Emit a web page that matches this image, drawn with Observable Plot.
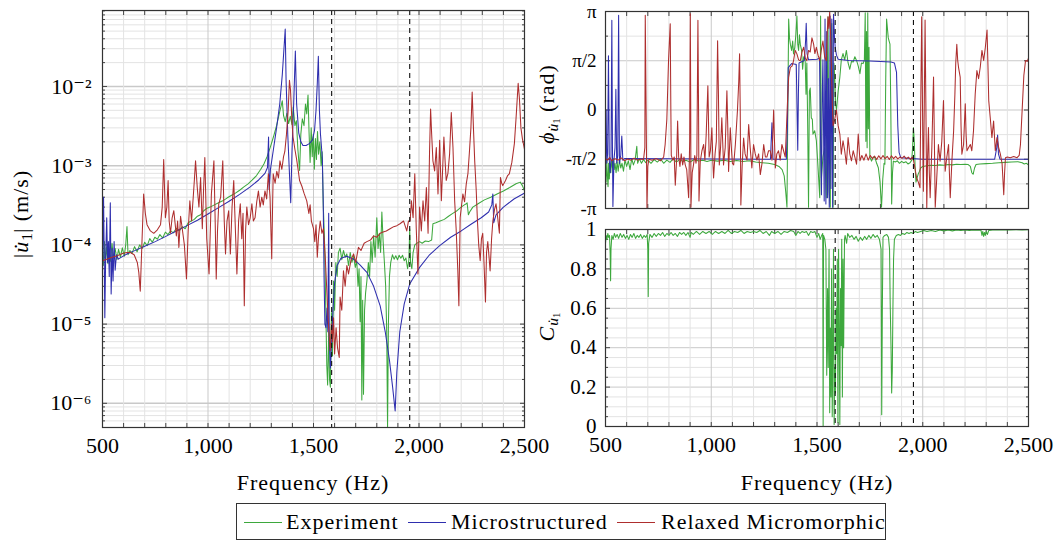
<!DOCTYPE html>
<html><head><meta charset="utf-8">
<script src="https://cdn.jsdelivr.net/npm/d3@7"></script>
<script src="https://cdn.jsdelivr.net/npm/@observablehq/plot@0.6"></script>
<style>
body{margin:0;background:#fff;}
#wrap{position:relative;width:1057px;height:540px;overflow:hidden;font-family:"Liberation Serif","DejaVu Serif",serif;color:#000;}
#wrap svg{position:absolute;overflow:visible;}
.lab{position:absolute;white-space:nowrap;font-size:22px;letter-spacing:1px;transform:translate(-50%,-50%);}
.ylab{position:absolute;white-space:nowrap;font-size:22px;letter-spacing:1px;transform:translate(-50%,-50%) rotate(-90deg);}
sub{font-size:70%;vertical-align:-0.25em;letter-spacing:0;}
#legend{position:absolute;left:236px;top:503px;width:650px;height:37px;border:1px solid #333;box-sizing:border-box;font-size:22px;letter-spacing:1px;}
#legend .it{position:absolute;top:5px;white-space:nowrap;}
#legend .sw{position:absolute;top:18px;height:0;border-top:1.3px solid;width:38px;}
</style></head>
<body><div id="wrap"></div>
<script>
// ---------- data ----------
const freqTicks = [500, 1000, 1500, 2000, 2500];
const freqGrid = [600,700,800,900,1100,1200,1300,1400,1600,1700,1800,1900,2100,2200,2300,2400];
const freqMinorTicks = [500,600,700,800,900,1000,1100,1200,1300,1400,1500,1600,1700,1800,1900,2000,2100,2200,2300,2400,2500];
const dashedFreqs = [1586, 1956];

const ampTicks = [1e-6, 1e-5, 1e-4, 1e-3, 1e-2];
const ampTickLabels = ["10\u207B\u2076", "10\u207B\u2075", "10\u207B\u2074", "10\u207B\u00B3", "10\u207B\u00B2"];
const ampMinor = [6e-7,7e-7,8e-7,9e-7,2e-6,3e-6,4e-6,5e-6,6e-6,7e-6,8e-6,9e-6,2e-5,3e-5,4e-5,5e-5,6e-5,7e-5,8e-5,9e-5,2e-4,3e-4,4e-4,5e-4,6e-4,7e-4,8e-4,9e-4,2e-3,3e-3,4e-3,5e-3,6e-3,7e-3,8e-3,9e-3,2e-2,3e-2,4e-2,5e-2,6e-2,7e-2,8e-2,9e-2];

const phaseTicks = [-Math.PI, -Math.PI/2, 0, Math.PI/2, Math.PI];
const phaseTickLabels = ["-\u03C0", "-\u03C0/2", "0", "\u03C0/2", "\u03C0"];
const phaseMinor = [-3*Math.PI/4, -Math.PI/4, Math.PI/4, 3*Math.PI/4];

const cohTicks = [0, 0.2, 0.4, 0.6, 0.8, 1];
const cohTickLabels = ["0", "0.2", "0.4", "0.6", "0.8", "1"];
const cohMinor = [0.05,0.1,0.15,0.25,0.3,0.35,0.45,0.5,0.55,0.65,0.7,0.75,0.85,0.9,0.95];

const seriesNames = ["Experiment", "Microstructured", "Relaxed Micromorphic"];
const seriesColors = ["#3da83d", "#2e2eae", "#ae2e2e"];

// amplitude |u1| (m/s): [frequency Hz, value]
const expAmp = [[500,8e-5],[504,5.5e-5],[509,1.1e-4],[514,6e-5],[520,9.5e-5],[526,5.8e-5],[532,8.5e-5],[538,6.2e-5],[545,1.05e-4],[552,6.8e-5],[560,9e-5],[568,6.5e-5],[576,8.8e-5],[585,7e-5],[594,9.2e-5],[603,7.2e-5],[610,1e-4],[616,1.7e-4],[621,7.5e-5],[630,8.5e-5],[640,7.8e-5],[652,9.5e-5],[664,8.2e-5],[676,1e-4],[688,9e-5],[700,1.08e-4],[712,9.8e-5],[724,1.2e-4],[736,1.08e-4],[748,1.25e-4],[760,1.18e-4],[772,1.35e-4],[785,1.22e-4],[798,1.45e-4],[810,1.35e-4],[823,1.5e-4],[836,1.42e-4],[850,1.62e-4],[864,1.5e-4],[878,1.7e-4],[892,1.6e-4],[906,1.9e-4],[920,2e-4],[935,2.1e-4],[950,2.3e-4],[965,2.4e-4],[980,2.7e-4],[995,2.9e-4],[1010,3e-4],[1030,3.2e-4],[1050,3.4e-4],[1070,3.6e-4],[1090,3.9e-4],[1110,4.2e-4],[1130,4.5e-4],[1150,4.9e-4],[1170,5.4e-4],[1190,5.9e-4],[1210,6.6e-4],[1230,7.5e-4],[1250,9e-4],[1265,1.05e-3],[1280,1.3e-3],[1295,1.7e-3],[1310,2.3e-3],[1325,3.2e-3],[1340,4.8e-3],[1352,6.6e-3],[1358,4.3e-3],[1366,3.6e-3],[1374,4.6e-3],[1382,3.4e-3],[1390,4.2e-3],[1398,3.3e-3],[1404,5.5e-3],[1412,3.2e-3],[1419,3.7e-3],[1426,1.6e-3],[1434,8.7e-4],[1440,2.5e-3],[1447,3.9e-3],[1455,3.2e-3],[1462,6e-3],[1468,4.5e-3],[1474,7.8e-3],[1479,2.6e-3],[1484,1.1e-3],[1489,3e-3],[1494,1.3e-3],[1499,2.5e-3],[1504,9e-4],[1509,2.2e-3],[1514,1.2e-3],[1519,2.7e-3],[1524,1.4e-3],[1530,2e-3],[1536,1e-3],[1541,1.5e-3],[1546,3.3e-4],[1552,1.2e-4],[1557,2.4e-5],[1563,3e-6],[1567,1.7e-6],[1572,8e-6],[1576,2e-6],[1580,1.6e-6],[1585,1.4e-5],[1590,4e-6],[1595,3.5e-5],[1600,1.5e-5],[1606,6e-5],[1612,4e-5],[1618,8e-5],[1626,9.1e-5],[1634,6.5e-5],[1642,8.5e-5],[1650,7e-5],[1658,7.7e-5],[1666,5.5e-5],[1674,8e-5],[1682,6e-5],[1690,7.2e-5],[1698,5.2e-5],[1705,6.3e-5],[1711,3e-5],[1716,5e-5],[1721,1.07e-5],[1725,4e-5],[1729,1.1e-6],[1733,2e-5],[1737,1.3e-6],[1742,1.5e-5],[1747,2.5e-5],[1753,3.5e-5],[1760,6e-5],[1766,4e-5],[1772,1.1e-4],[1778,6e-5],[1785,1.3e-4],[1792,7e-5],[1800,2.2e-4],[1806,9e-5],[1812,1.4e-4],[1818,8e-5],[1824,2.6e-4],[1830,1.1e-4],[1836,6e-5],[1842,3e-5],[1847,8e-6],[1851,4.9e-7],[1855,1e-5],[1860,4e-5],[1866,6e-5],[1874,7.5e-5],[1882,6.6e-5],[1890,7.3e-5],[1898,6.5e-5],[1906,7.4e-5],[1914,6.8e-5],[1922,7.4e-5],[1930,6.3e-5],[1938,6.8e-5],[1946,5e-5],[1952,6.5e-5],[1956,1.6e-4],[1960,6e-5],[1966,5e-5],[1972,8e-5],[1980,1e-4],[1990,1.05e-4],[2003,1.1e-4],[2015,1.05e-4],[2030,1.12e-4],[2045,1.1e-4],[2060,1.15e-4],[2066,1.85e-4],[2080,1.9e-4],[2100,2e-4],[2120,2.1e-4],[2140,2.3e-4],[2160,2.5e-4],[2180,2.7e-4],[2200,3e-4],[2215,3.2e-4],[2224,3.3e-4],[2228,3.4e-4],[2234,2.4e-4],[2240,2.6e-4],[2255,3e-4],[2280,3.3e-4],[2310,3.7e-4],[2340,4e-4],[2370,4.4e-4],[2400,4.8e-4],[2430,5.3e-4],[2460,5.9e-4],[2480,6.2e-4],[2490,5.6e-4],[2500,4.8e-4]];

const microAmp = [[500,5e-5],[503,1.5e-4],[505,4e-4],[508,8e-5],[511,1.2e-5],[515,7e-5],[520,2.2e-4],[524,6e-5],[528,1.1e-4],[532,4e-5],[537,3.4e-4],[541,2.4e-5],[546,9e-5],[550,3.5e-5],[555,1.1e-4],[560,4.8e-5],[566,7.5e-5],[575,6.6e-5],[590,7e-5],[620,7.8e-5],[650,8.4e-5],[700,9.6e-5],[750,1.1e-4],[800,1.28e-4],[850,1.5e-4],[900,1.75e-4],[950,2.05e-4],[1000,2.45e-4],[1050,2.95e-4],[1100,3.55e-4],[1150,4.35e-4],[1200,5.4e-4],[1240,6.6e-4],[1270,8e-4],[1282,9.5e-4],[1287,2.3e-3],[1290,5e-4],[1296,9e-4],[1310,1.6e-3],[1325,3e-3],[1340,6e-3],[1352,1.4e-2],[1360,3e-2],[1366,5.3e-2],[1370,1.2e-2],[1378,2.5e-3],[1386,8e-4],[1392,3.4e-4],[1398,1.5e-3],[1406,6e-3],[1414,2.8e-2],[1420,6e-3],[1430,2.6e-3],[1440,2e-3],[1450,1.8e-3],[1465,1.8e-3],[1480,1.9e-3],[1495,2.1e-3],[1505,2.8e-3],[1512,5e-3],[1518,1.1e-2],[1523,2.4e-2],[1528,5e-3],[1533,2.5e-3],[1538,1.7e-3],[1542,1.2e-3],[1546,3.6e-4],[1550,4e-5],[1554,1e-5],[1559,9e-6],[1564,1.6e-5],[1568,8e-6],[1572,2.5e-4],[1575,6e-6],[1580,2.8e-6],[1586,6e-6],[1592,1.5e-5],[1600,3.3e-5],[1612,5.5e-5],[1630,6.8e-5],[1658,7.2e-5],[1690,6.6e-5],[1720,5.6e-5],[1753,4.5e-5],[1785,3e-5],[1816,1.7e-5],[1840,8e-6],[1860,3.5e-6],[1875,1.6e-6],[1887,8e-7],[1895,2.5e-6],[1909,8e-6],[1930,1.8e-5],[1956,3.2e-5],[2003,5.2e-5],[2050,7.5e-5],[2098,9.8e-5],[2150,1.25e-4],[2200,1.5e-4],[2250,1.85e-4],[2295,2.2e-4],[2330,2.6e-4],[2345,3.2e-4],[2350,4.4e-4],[2354,1.9e-4],[2365,2.4e-4],[2400,3e-4],[2450,3.8e-4],[2500,4.5e-4]];

const relaxAmp = [[500,6.3e-5],[520,6.6e-5],[545,7e-5],[570,7.3e-5],[595,7.8e-5],[615,8e-5],[632,8e-5],[650,7.5e-5],[665,6e-5],[672,4.5e-5],[679,2.6e-5],[686,9e-5],[695,4.4e-4],[703,2.5e-4],[711,1.8e-4],[727,1.5e-4],[743,1.4e-4],[760,1.55e-4],[775,1.8e-4],[783,3e-4],[790,1.2e-3],[798,2.2e-4],[805,3e-4],[811,6.5e-4],[816,2e-4],[822,1.4e-4],[830,2.2e-4],[838,2.7e-4],[850,1.3e-4],[856,2e-4],[862,9.3e-5],[870,2.3e-4],[878,1.6e-4],[888,1e-4],[898,3.7e-5],[906,1.5e-4],[914,3.6e-4],[922,2e-4],[930,4e-4],[936,7e-4],[941,1.15e-3],[949,5.3e-4],[957,3e-4],[965,7.1e-4],[973,1.6e-4],[979,5e-4],[985,1.27e-3],[994,1.2e-4],[1005,4.3e-5],[1016,4.4e-4],[1028,1.15e-3],[1034,2e-4],[1039,3.7e-5],[1045,1.5e-4],[1051,3.3e-4],[1060,4e-4],[1070,1.15e-3],[1077,2e-4],[1083,7.7e-5],[1090,2e-4],[1098,2.7e-4],[1106,7.7e-5],[1114,3e-4],[1122,6.5e-4],[1130,1.5e-4],[1137,4.3e-5],[1145,2e-4],[1153,3.3e-4],[1160,1.2e-4],[1166,2.5e-4],[1172,1.7e-5],[1178,1.5e-4],[1184,3e-4],[1192,1.8e-4],[1200,2.2e-4],[1208,3.3e-4],[1215,2e-4],[1223,2.2e-4],[1231,3.5e-4],[1239,4.8e-4],[1247,3e-4],[1255,4e-4],[1262,3.2e-4],[1270,4.8e-4],[1278,3.8e-4],[1286,7.9e-4],[1294,4e-4],[1302,6.7e-5],[1306,3e-4],[1309,7.9e-4],[1318,6e-4],[1326,8.5e-4],[1334,7e-4],[1341,1.15e-3],[1350,9e-4],[1358,1.3e-3],[1364,1.5e-3],[1372,2.5e-3],[1380,5e-3],[1386,1.2e-2],[1391,9e-3],[1397,4e-3],[1403,2.3e-3],[1412,1.6e-3],[1420,1.2e-3],[1427,9e-4],[1434,6.5e-4],[1445,5.5e-4],[1455,4.5e-4],[1468,3.6e-4],[1478,2.5e-4],[1484,3.2e-4],[1490,2e-4],[1500,1.6e-4],[1506,1.1e-4],[1512,1.8e-4],[1518,7e-5],[1524,1.3e-4],[1532,2e-4],[1540,1.4e-4],[1547,1.6e-4],[1555,7.7e-5],[1566,1.8e-5],[1573,8e-6],[1579,4.6e-6],[1585,1e-5],[1590,6e-6],[1595,1.2e-5],[1600,4.2e-6],[1607,9e-6],[1614,5e-6],[1622,3.8e-6],[1626,2.2e-5],[1634,1.5e-5],[1642,4.7e-5],[1650,3e-5],[1658,5.5e-5],[1666,4.3e-5],[1678,6.5e-5],[1690,7.7e-5],[1700,6e-5],[1713,9.3e-5],[1725,8.5e-5],[1740,1.05e-4],[1753,1.1e-4],[1770,1.15e-4],[1785,1.3e-4],[1800,1.25e-4],[1816,1.4e-4],[1830,1.45e-4],[1845,1.5e-4],[1863,1.6e-4],[1880,1.7e-4],[1895,1.75e-4],[1910,1.85e-4],[1927,2e-4],[1942,1.5e-4],[1950,2e-4],[1958,2e-4],[1964,3.6e-4],[1972,2.2e-4],[1980,7.9e-4],[1987,1.6e-4],[1995,4.3e-5],[2003,3e-4],[2011,1.5e-4],[2019,3.6e-4],[2027,2e-4],[2035,5.3e-4],[2043,1.4e-4],[2050,1.5e-3],[2055,5.2e-3],[2060,2.5e-3],[2066,1.15e-3],[2074,8.6e-4],[2082,1.7e-3],[2090,4.4e-4],[2098,2.1e-3],[2106,3.6e-4],[2112,9e-4],[2118,2.3e-3],[2124,1.1e-3],[2129,6.5e-4],[2137,8e-4],[2145,1.4e-3],[2153,4.7e-3],[2161,1.7e-3],[2169,3.6e-4],[2176,1.6e-4],[2184,4.7e-5],[2189,1.7e-5],[2195,2.2e-4],[2208,4.4e-4],[2216,3.5e-4],[2224,5.9e-4],[2232,8e-4],[2239,1.5e-3],[2246,3e-3],[2252,8.5e-3],[2258,3e-3],[2264,1.15e-3],[2271,5e-4],[2277,2e-4],[2283,1e-4],[2290,6.3e-5],[2296,1.2e-4],[2302,1.4e-4],[2308,6e-5],[2315,1.9e-5],[2320,8e-5],[2326,1.1e-4],[2332,7e-5],[2337,4.7e-5],[2344,1.2e-4],[2350,2e-4],[2358,2.8e-4],[2365,3.3e-4],[2373,2.2e-4],[2381,1.4e-4],[2386,7.1e-4],[2392,6e-4],[2397,5.6e-4],[2410,6.5e-4],[2420,7.5e-4],[2428,7.9e-4],[2440,1.1e-3],[2452,1.9e-3],[2460,4e-3],[2470,1.1e-2],[2476,7e-3],[2483,3e-3],[2490,2.2e-3],[2500,1.6e-3]];

// phase (rad): [frequency Hz, value]
const expPhase = [[500,-1.9],[503,-2.3],[506,-1.6],[509,-2.1],[512,-2.45],[515,-1.7],[518,-2.2],[521,-1.75],[525,-2.0],[529,-1.6],[533,-1.85],[537,-1.55],[541,-1.9],[545,-1.7],[550,-2.0],[555,-1.65],[560,-1.95],[566,-1.6],[572,-1.85],[578,-1.7],[585,-1.95],[592,-1.6],[600,-1.8],[608,-1.62],[616,-1.9],[624,-1.55],[632,-1.75],[640,-1.6],[648,-1.16],[652,-1.7],[660,-1.55],[670,-1.7],[680,-1.58],[690,-1.68],[700,-1.6],[715,-1.7],[730,-1.58],[745,-1.66],[760,-1.56],[775,-1.7],[790,-1.6],[805,-1.67],[820,-1.55],[835,-1.66],[850,-1.58],[865,-1.64],[880,-1.6],[900,-1.66],[920,-1.58],[940,-1.63],[960,-1.6],[980,-1.64],[1000,-1.6],[1030,-1.63],[1060,-1.6],[1090,-1.64],[1120,-1.61],[1150,-1.64],[1180,-1.62],[1210,-1.66],[1240,-1.68],[1270,-1.7],[1300,-1.74],[1320,-1.8],[1335,-1.9],[1345,-2.1],[1352,-2.6],[1358,-3.1],[1362,0],[1366,2.9],[1370,2.3],[1374,2.1],[1380,1.9],[1385,2.2],[1389,1.79],[1395,2.0],[1400,2.4],[1405,3.0],[1409,2.1],[1413,1.9],[1417,2.4],[1421,2.1],[1427,1.9],[1432,1.3],[1437,1.7],[1444,1.6],[1448,0.5],[1452,1.5],[1456,-0.5],[1460,-3.1],[1464,0.6],[1468,0.7],[1473,-0.25],[1478,-0.3],[1481,-0.77],[1489,-0.66],[1497,-0.98],[1505,-1.84],[1513,-2.8],[1517,3.0],[1521,-2.16],[1528,-1.5],[1536,-1.2],[1544,-2.8],[1548,0.5],[1552,2.97],[1557,-2.6],[1563,-3.1],[1566,1.0],[1570,2.76],[1573,-1.0],[1576,-3.1],[1580,1.5],[1584,1.05],[1588,0.2],[1592,0],[1600,0.6],[1608,1.05],[1615,1.6],[1623,1.8],[1631,1.6],[1639,1.9],[1647,1.5],[1655,1.3],[1663,1.55],[1671,1.53],[1679,1.7],[1687,1.58],[1695,1.4],[1703,1.16],[1710,1.5],[1718,1.48],[1724,1.6],[1728,3.1],[1731,-1.0],[1734,2.5],[1737,-1.2],[1740,3.1],[1743,-0.6],[1746,2.0],[1750,-1.5],[1758,-1.63],[1766,-1.5],[1774,-1.52],[1782,-1.7],[1790,-1.84],[1798,-2.3],[1805,-3.1],[1811,-2.2],[1817,-1.7],[1821,-1.73],[1825,1.0],[1829,2.9],[1833,2.6],[1837,2.3],[1841,2.2],[1845,2.1],[1849,0],[1853,-3.0],[1857,-2.0],[1861,-1.63],[1870,-1.66],[1880,-1.62],[1890,-1.7],[1900,-1.64],[1910,-1.68],[1920,-1.65],[1930,-1.72],[1940,-1.68],[1948,-1.6],[1952,-1.2],[1956,-0.56],[1960,-1.0],[1964,-1.84],[1968,-2.3],[1972,-2.2],[1978,-2.05],[1985,-1.95],[1990,-1.85],[2000,-1.8],[2020,-1.78],[2040,-1.76],[2060,-1.77],[2080,-1.75],[2100,-1.76],[2120,-1.74],[2140,-1.75],[2160,-1.73],[2180,-1.74],[2200,-1.73],[2215,-1.74],[2225,-1.8],[2232,-2.0],[2238,-2.05],[2245,-1.85],[2252,-1.74],[2270,-1.72],[2300,-1.71],[2330,-1.7],[2360,-1.68],[2390,-1.67],[2420,-1.66],[2450,-1.65],[2470,-1.68],[2480,-1.72],[2490,-1.7],[2500,-1.75]];

const microPhase = [[500,-1.57],[503,0],[506,-1.7],[510,-1.4],[514,1.73],[518,-1.6],[522,-2.0],[526,-1.5],[530,2.86],[533,-1.3],[535,-3.08],[540,-1.6],[545,-1.2],[549,0.66],[553,-1.7],[558,-1.45],[562,3.02],[566,-1.7],[572,-1.45],[577,-0.83],[582,-1.6],[590,-1.55],[1280,-1.57],[1287,-0.41],[1292,-1.57],[1355,-1.57],[1360,-0.5],[1364,1.35],[1380,1.48],[1402,1.45],[1407,-0.5],[1409,-1.28],[1412,0.5],[1415,1.5],[1440,1.58],[1446,2.2],[1449,2.77],[1453,1.8],[1460,1.6],[1500,1.62],[1512,1.65],[1517,-1.0],[1521,-2.7],[1525,0.5],[1528,1.6],[1534,-2.9],[1538,2.9],[1542,-3.0],[1546,2.5],[1550,-2.8],[1554,1.0],[1558,-3.1],[1562,3.0],[1566,-2.5],[1570,2.9],[1574,-3.1],[1578,3.05],[1582,2.4],[1586,2.0],[1592,1.75],[1600,1.62],[1650,1.58],[1750,1.56],[1850,1.53],[1866,1.5],[1876,1.2],[1882,-0.5],[1888,-1.35],[1896,-1.52],[2000,-1.57],[2340,-1.57],[2350,-1.2],[2354,-0.8],[2358,-1.4],[2365,-1.57],[2500,-1.57]];

const relaxPhase = [[500,-1.55],[510,-1.6],[520,-1.52],[530,-1.62],[545,-1.55],[560,-1.6],[575,-1.53],[590,-1.62],[605,-1.56],[620,-1.6],[635,-1.54],[650,-1.6],[665,-1.56],[680,-1.58],[686,-1.2],[688,3.02],[692,0],[696,-3.13],[700,-1.8],[705,-1.57],[720,-1.6],[740,-1.55],[760,-1.62],[775,-1.5],[782,-1.1],[790,-0.3],[798,1.57],[806,2.75],[809,0],[811,-1.45],[818,-1.6],[825,-1.5],[830,-2.4],[836,-1.6],[841,-0.35],[846,-1.5],[852,-1.8],[858,-1.4],[865,-1.75],[871,-1.5],[877,-1.75],[884,-1.9],[889,-2.4],[893,-2.8],[898,-1.0],[901,3.07],[903,0],[904,-3.1],[910,-2.0],[916,-1.75],[922,-1.45],[928,-1.7],[932,-1.45],[937,2.86],[940,0],[942,-2.9],[948,-1.65],[956,-1.3],[964,-1.1],[970,-1.6],[976,-0.8],[984,0.77],[990,-1.5],[996,-1.3],[1003,-0.57],[1008,-1.7],[1011,-2.17],[1018,-1.4],[1024,-1.0],[1030,2.21],[1034,0.5],[1038,-1.75],[1044,-1.2],[1050,-0.25],[1054,-1.0],[1058,-1.75],[1066,-1.2],[1074,0.61],[1078,-0.5],[1082,-1.96],[1090,-0.57],[1096,-1.3],[1100,-1.7],[1106,-1.75],[1114,-1.1],[1124,0],[1130,0.9],[1134,1.79],[1137,0],[1140,-3.03],[1146,-1.8],[1153,-0.89],[1160,-1.4],[1169,-1.6],[1177,-0.46],[1184,-1.2],[1192,-1.85],[1200,-1.1],[1208,-1.4],[1216,-1.6],[1224,-1.4],[1232,-2.06],[1240,-1.7],[1248,-1.1],[1256,-1.5],[1263,-1.5],[1271,-1.3],[1279,-1.3],[1287,-1.6],[1295,0],[1299,-1.0],[1303,-1.85],[1310,-1.4],[1318,-1.3],[1326,-1.6],[1334,-1.1],[1342,-1.3],[1350,-1.5],[1356,-0.5],[1362,0.5],[1366,1.04],[1374,1.36],[1382,1.4],[1389,1.57],[1397,1.9],[1405,1.79],[1413,1.6],[1421,1.57],[1429,1.85],[1437,2.0],[1445,1.65],[1452,1.57],[1460,1.9],[1468,1.85],[1476,2.3],[1484,2.1],[1490,1.8],[1497,2.0],[1505,1.75],[1513,1.58],[1520,1.9],[1528,2.2],[1536,1.7],[1544,1.57],[1548,2.4],[1552,2.97],[1556,2.6],[1560,3.14],[1564,2.5],[1568,1.39],[1572,0.3],[1576,-0.5],[1584,-0.3],[1592,0],[1600,-0.5],[1608,-0.77],[1615,-1.41],[1623,-0.98],[1631,-1.3],[1639,-1.73],[1647,-0.88],[1655,-1.4],[1663,-1.62],[1671,-1.3],[1679,-1.5],[1687,-1.73],[1695,-0.77],[1703,-1.62],[1712,-1.45],[1722,-1.6],[1732,-1.4],[1742,-1.6],[1752,-1.45],[1762,-1.55],[1772,-1.47],[1782,-1.58],[1792,-1.46],[1802,-1.56],[1812,-1.45],[1822,-1.55],[1832,-1.48],[1842,-1.58],[1852,-1.46],[1862,-1.55],[1872,-1.48],[1882,-1.56],[1892,-1.5],[1902,-1.54],[1912,-1.47],[1922,-1.56],[1932,-1.5],[1942,-1.58],[1950,-1.5],[1956,-1.6],[1963,-1.85],[1971,-2.16],[1979,-2.3],[1987,-2.48],[1991,0.5],[1995,2.97],[1999,0],[2003,-2.59],[2007,0],[2011,2.87],[2015,0],[2019,-3.12],[2023,-1.5],[2027,-0.56],[2031,-2.0],[2035,-2.8],[2043,-1.2],[2051,1.05],[2055,-1.0],[2059,-3.1],[2066,-2.2],[2074,-1.1],[2082,-1.63],[2090,-1.0],[2098,0.3],[2102,-1.0],[2106,-1.95],[2114,-1.5],[2122,-1.1],[2126,-2.0],[2130,-2.8],[2138,-1.6],[2146,-0.66],[2152,0.5],[2156,1.5],[2161,2.1],[2165,1.6],[2169,1.37],[2177,1.05],[2181,-0.5],[2185,-1.41],[2193,-1.1],[2201,0.2],[2205,-0.8],[2209,-1.3],[2217,-1.2],[2225,-1.1],[2232,-1.3],[2240,-0.66],[2248,0.5],[2256,1.26],[2264,1.0],[2272,1.37],[2280,1.9],[2288,1.58],[2296,2.0],[2304,2.55],[2308,1.5],[2312,0.3],[2319,-0.24],[2327,-0.88],[2335,-0.35],[2343,-1.3],[2351,-0.88],[2359,-1.2],[2367,-1.41],[2375,-1.7],[2383,-2.7],[2387,-2.0],[2391,-1.52],[2400,-1.5],[2414,-1.52],[2430,-1.48],[2446,-1.52],[2456,-1.45],[2462,-1.1],[2470,0],[2478,1.1],[2486,1.58],[2494,1.55],[2500,1.65]];

// coherence of the experiment: [frequency Hz, value]
const expCoherence = [[500,0.93],[503,0.97],[507,0.95],[511,0.98],[515,0.96],[519,0.97],[522,0.88],[524,0.74],[526,0.9],[530,0.97],[536,0.95],[542,0.98],[548,0.96],[555,0.975],[562,0.955],[570,0.98],[578,0.96],[586,0.975],[594,0.955],[602,0.97],[610,0.95],[618,0.975],[626,0.96],[634,0.98],[642,0.955],[650,0.97],[658,0.96],[666,0.975],[674,0.955],[682,0.97],[690,0.96],[697,0.975],[700,0.9],[702,0.66],[704,0.93],[710,0.975],[720,0.96],[730,0.98],[740,0.965],[750,0.98],[760,0.97],[770,0.985],[780,0.965],[790,0.98],[800,0.97],[810,0.985],[820,0.97],[830,0.98],[840,0.965],[850,0.985],[860,0.975],[870,0.985],[880,0.97],[890,0.985],[900,0.96],[905,0.985],[915,0.975],[930,0.99],[945,0.975],[960,0.99],[975,0.98],[990,0.99],[1005,0.975],[1020,0.99],[1035,0.98],[1050,0.99],[1065,0.98],[1080,0.995],[1095,0.98],[1110,0.99],[1125,0.985],[1140,0.995],[1155,0.98],[1170,0.99],[1185,0.985],[1200,0.99],[1215,0.985],[1230,0.995],[1245,0.98],[1260,0.99],[1275,0.97],[1285,0.99],[1300,0.98],[1315,0.99],[1330,0.975],[1345,0.99],[1360,0.985],[1375,0.995],[1390,0.99],[1400,0.97],[1410,0.99],[1420,0.98],[1430,0.99],[1440,0.985],[1450,0.99],[1460,0.97],[1470,0.99],[1480,0.985],[1490,0.99],[1500,0.96],[1508,0.98],[1515,0.95],[1522,0.97],[1527,0.98],[1529,0.0],[1531,0.97],[1537,0.95],[1542,0.9],[1546,0.26],[1550,0.7],[1553,0.3],[1557,0.9],[1560,0.07],[1563,0.5],[1566,0.15],[1569,0.8],[1572,0.05],[1575,0.4],[1578,0.9],[1581,0.01],[1584,0.3],[1587,0.17],[1590,0.6],[1593,0.37],[1596,0.85],[1599,0.02],[1602,0.9],[1605,0.51],[1608,0.01],[1611,0.7],[1614,0.41],[1617,0.95],[1620,0.15],[1623,0.85],[1626,0.4],[1630,0.95],[1633,0.97],[1640,0.93],[1645,0.98],[1655,0.96],[1665,0.97],[1675,0.95],[1685,0.965],[1695,0.94],[1705,0.96],[1715,0.945],[1725,0.965],[1735,0.95],[1745,0.97],[1755,0.955],[1765,0.975],[1775,0.96],[1785,0.97],[1795,0.95],[1803,0.9],[1806,0.06],[1809,0.6],[1812,0.96],[1820,0.97],[1830,0.975],[1838,0.96],[1843,0.9],[1846,0.63],[1850,0.4],[1853,0.17],[1856,0.28],[1859,0.6],[1862,0.85],[1866,0.95],[1875,0.97],[1885,0.975],[1895,0.97],[1905,0.98],[1915,0.975],[1925,0.985],[1935,0.98],[1945,0.985],[1955,0.98],[1965,0.99],[1975,0.985],[1990,0.99],[2005,0.995],[2020,0.99],[2040,0.995],[2060,0.99],[2080,0.997],[2100,0.993],[2120,0.997],[2140,0.993],[2160,0.997],[2180,0.995],[2200,0.998],[2220,0.995],[2240,0.998],[2260,0.996],[2275,0.998],[2280,0.97],[2284,0.99],[2288,0.965],[2292,0.985],[2296,0.97],[2300,0.99],[2306,0.975],[2312,0.995],[2330,0.998],[2350,0.997],[2380,0.999],[2410,0.998],[2440,0.999],[2470,0.998],[2500,0.999]];

// ---------- drawing ----------
const FONT = "'Liberation Serif', 'DejaVu Serif', serif";
const gridLight = "#e3e3e3", gridMajor = "#c9c9c9", frameCol = "#333";
const fx = d => d[0], fy = d => d[1];

function inTicks(ticks, size, k) {
  const ax = k === "x" ? Plot.axisX : Plot.axisY;
  const anchors = k === "x" ? ["bottom", "top"] : ["left", "right"];
  return anchors.map(a => ax({ticks, anchor: a, tickSize: -size, fill: "none", label: null, stroke: "#444"}));
}
function commonX(showLabels) {
  return [
    Plot.ruleX(freqGrid, {stroke: gridLight}),
    Plot.ruleX(freqTicks, {stroke: gridMajor}),
    ...inTicks(freqMinorTicks, 4, "x"),
    Plot.axisX({ticks: freqTicks, tickFormat: d3.format(","), tickSize: 0, tickPadding: 10, label: null, fill: showLabels ? "black" : "none"})
  ];
}
function lines(datasets) {
  return datasets.map((ds, i) => Plot.line(ds, {x: fx, y: fy, stroke: seriesColors[i], strokeWidth: 1.05, clip: true}));
}
const dashed = () => Plot.ruleX(dashedFreqs, {stroke: "#111", strokeWidth: 1.1, strokeDasharray: "5,4"});

const wrap = document.getElementById("wrap");
function place(el, left, top) { el.style.left = left + "px"; el.style.top = top + "px"; wrap.appendChild(el); }

// left amplitude panel
const ampPlot = Plot.plot({
  width: 530, height: 500,
  marginLeft: 102, marginRight: 6, marginTop: 10, marginBottom: 73,
  style: {fontFamily: FONT, fontSize: "22px", background: "transparent", color: "black"},
  x: {domain: [500, 2500]},
  y: {type: "log", domain: [4.95e-7, 0.091]},
  marks: [
    Plot.ruleY(ampMinor, {stroke: gridLight}),
    Plot.ruleY(ampTicks, {stroke: gridMajor, strokeWidth: 1.4}),
    ...commonX(true),
    ...inTicks(ampTicks, 5, "y"),
    ...inTicks(ampMinor, 3, "y"),
    Plot.axisY({ticks: ampTicks, tickFormat: d => ampTickLabels[ampTicks.indexOf(d)], tickSize: 0, tickPadding: 11, label: null}),
    ...lines([expAmp, microAmp, relaxAmp]),
    dashed(),
    Plot.frame({stroke: frameCol, strokeWidth: 1.2})
  ]
});
place(ampPlot, 0, 0);

// phase panel
const phasePlot = Plot.plot({
  width: 527, height: 215,
  marginLeft: 75, marginRight: 29, marginTop: 11, marginBottom: 7,
  style: {fontFamily: FONT, fontSize: "22px", background: "transparent", color: "black"},
  x: {domain: [500, 2500]},
  y: {domain: [-Math.PI, Math.PI]},
  marks: [
    Plot.ruleY(phaseMinor, {stroke: gridLight}),
    Plot.ruleY(phaseTicks, {stroke: gridMajor}),
    ...commonX(false),
    ...inTicks(phaseTicks, 5, "y"),
    ...inTicks(phaseMinor, 3, "y"),
    Plot.axisY({ticks: phaseTicks, tickFormat: d => phaseTickLabels[phaseTicks.indexOf(d)], tickSize: 0, tickPadding: 9, label: null, fontSize: 19}),
    ...lines([expPhase, microPhase, relaxPhase]),
    dashed(),
    Plot.frame({stroke: frameCol, strokeWidth: 1.2})
  ]
});
place(phasePlot, 530, 0);

// coherence panel
const cohPlot = Plot.plot({
  width: 527, height: 285,
  marginLeft: 75, marginRight: 29, marginTop: 14, marginBottom: 74,
  style: {fontFamily: FONT, fontSize: "22px", background: "transparent", color: "black"},
  x: {domain: [500, 2500]},
  y: {domain: [0, 1]},
  marks: [
    Plot.ruleY(cohMinor, {stroke: gridLight}),
    Plot.ruleY(cohTicks, {stroke: gridMajor}),
    ...commonX(true),
    ...inTicks(cohTicks, 5, "y"),
    ...inTicks(cohMinor, 3, "y"),
    Plot.axisY({ticks: cohTicks, tickFormat: d => cohTickLabels[cohTicks.indexOf(d)], tickSize: 0, tickPadding: 9, label: null, fontSize: 21}),
    ...lines([expCoherence]),
    dashed(),
    Plot.frame({stroke: frameCol, strokeWidth: 1.2})
  ]
});
place(cohPlot, 530, 215);

// axis titles
const titles = [
  {html: "Frequency (Hz)", cls: "lab", x: 313, y: 483},
  {html: "Frequency (Hz)", cls: "lab", x: 817, y: 483},
  {html: "|<i>u\u0307</i><sub>1</sub>| (m/s)", cls: "ylab", x: 22, y: 214},
  {html: "<i>\u03D5</i><sub><i>u\u0307</i><sub>1</sub></sub> (rad)", cls: "ylab", x: 548, y: 104},
  {html: "<i>C</i><sub><i>u\u0307</i><sub>1</sub></sub>", cls: "ylab", x: 548, y: 327}
];
for (const t of titles) {
  const d = document.createElement("div");
  d.className = t.cls; d.innerHTML = t.html;
  d.style.left = t.x + "px"; d.style.top = t.y + "px";
  wrap.appendChild(d);
}

// legend
const legend = document.createElement("div");
legend.id = "legend";
const swX = [7, 171, 380], txX = [49, 214, 424];
seriesNames.forEach((name, i) => {
  const sw = document.createElement("span"); sw.className = "sw";
  sw.style.left = swX[i] + "px"; sw.style.borderColor = seriesColors[i];
  const tx = document.createElement("span"); tx.className = "it";
  tx.style.left = txX[i] + "px"; tx.textContent = name;
  legend.appendChild(sw); legend.appendChild(tx);
});
wrap.appendChild(legend);
</script>
</body></html>
